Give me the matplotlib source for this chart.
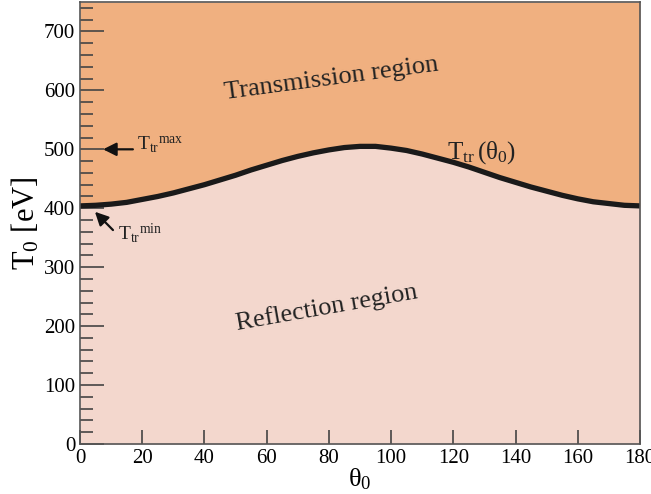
import matplotlib
matplotlib.use('Agg')
import matplotlib.pyplot as plt
from matplotlib.ticker import MultipleLocator

plt.rcParams['font.family'] = ['Liberation Serif', 'DejaVu Serif']
plt.rcParams['mathtext.fontset'] = 'custom'
plt.rcParams['mathtext.rm'] = 'Liberation Serif'
plt.rcParams['mathtext.it'] = 'Liberation Serif'

# Transition energy vs. incidence angle
theta = [0, 5, 10, 15, 20, 25, 30, 35, 40, 45, 50, 55, 60, 65, 70, 75, 80, 85, 90,
         95, 100, 105, 110, 115, 120, 125, 130, 135, 140, 145, 150, 155, 160, 165, 170, 175, 180]
t_tr = [404, 405, 407, 410, 415, 420, 426, 433, 440, 448, 456, 465, 473, 481, 488, 494, 499, 503, 505,
        505, 502, 498, 492, 485, 478, 470, 461, 452, 444, 436, 429, 422, 416, 411, 408, 405, 404]
y_top = 750

upper_color = '#F0B080'
lower_color = '#F3D7CD'

fig = plt.figure(figsize=(6.51, 4.94), dpi=100)
ax = fig.add_axes([0.1229, 0.1012, 0.8601, 0.8948])

ax.fill_between(theta, 0, t_tr, color=lower_color, lw=0)
ax.fill_between(theta, t_tr, y_top, color=upper_color, lw=0)
ax.plot(theta, t_tr, color='#1a1a1a', lw=3.8, solid_capstyle='butt')

ax.set_xlim(0, 180)
ax.set_ylim(0, y_top)
ax.xaxis.set_major_locator(MultipleLocator(20))
ax.yaxis.set_major_locator(MultipleLocator(100))
ax.yaxis.set_minor_locator(MultipleLocator(20))
ax.tick_params(axis='y', which='major', direction='in', length=17, width=1.2, color='#444444', labelsize=15)
ax.tick_params(axis='y', which='minor', direction='in', length=9, width=1.2, color='#444444')
ax.tick_params(axis='x', which='major', direction='in', length=10, width=1.2, color='#444444', labelsize=15)
for s in ax.spines.values():
    s.set_color('#555555')
    s.set_linewidth(1.2)

ax.set_xlabel(r'$\mathrm{\theta_0}$', fontsize=19, labelpad=-1)
ax.set_ylabel(r'$\mathrm{T_0}$ [eV]', fontsize=22, labelpad=2)

ax.text(80.7, 619, 'Transmission region', fontsize=19, rotation=7.6,
        ha='center', va='center', color='#222222')
ax.text(79.4, 232, 'Reflection region', fontsize=19, rotation=10,
        ha='center', va='center', color='#222222')
ax.text(129, 495, r'$\mathrm{T_{tr}\,(\theta_0)}$', fontsize=18,
        ha='center', va='center', color='#222222')

# T_max / T_min markers
arrow = dict(arrowstyle='-|>', color='#111111', lw=1.6, shrinkA=0, shrinkB=0, mutation_scale=20)
ax.annotate('', xy=(7.4, 500), xytext=(17.0, 500), arrowprops=arrow)
ax.text(18.3, 507, r'$\mathrm{T_{tr}{}^{max}}$', fontsize=14, va='center', ha='left', color='#222222')
ax.annotate('', xy=(4.8, 394), xytext=(10.6, 363), arrowprops=arrow)
ax.text(12.2, 358, r'$\mathrm{T_{tr}{}^{min}}$', fontsize=14, va='center', ha='left', color='#222222')

fig.savefig('out.png', dpi=100)
